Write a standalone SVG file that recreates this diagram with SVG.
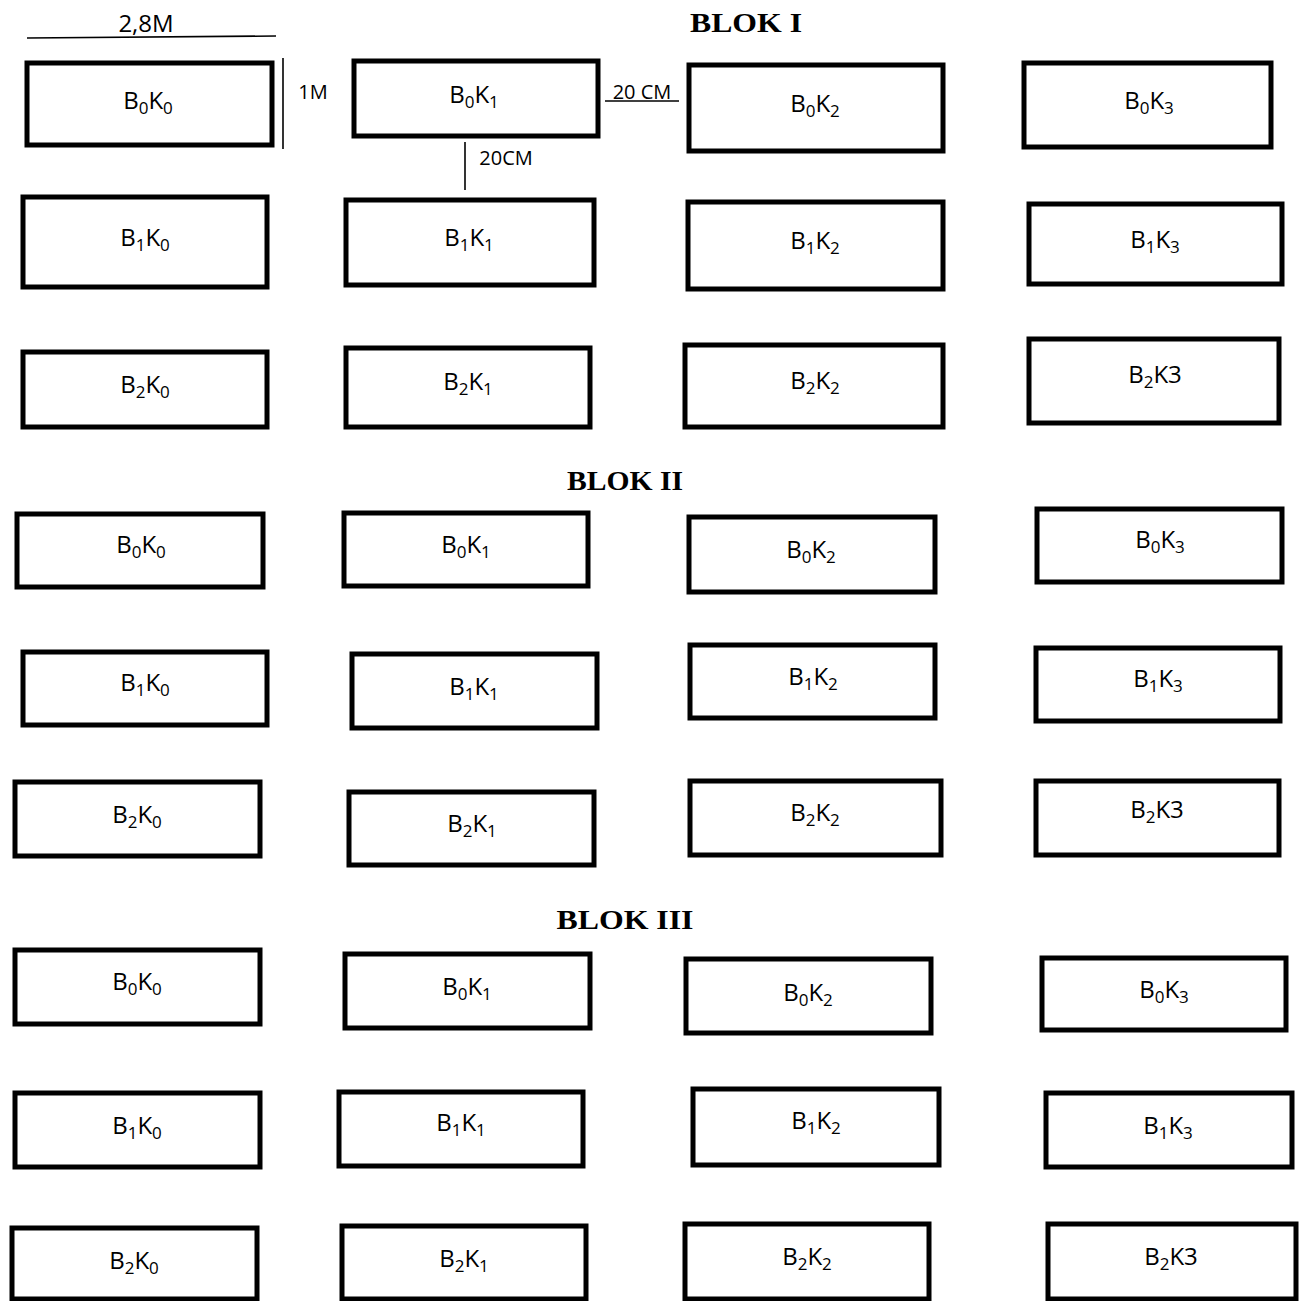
<svg xmlns="http://www.w3.org/2000/svg" width="1302" height="1301" viewBox="0 0 1302 1301">
<style>
.b{fill:#fff;stroke:#000;stroke-width:5}
.t{font-family:"Open Sans","Liberation Sans",sans-serif;font-size:24px;fill:#000;text-anchor:middle}
.s{font-size:17px}
.m{font-size:20px}
.h{font-family:"Liberation Serif",serif;font-weight:bold;font-size:28px;text-anchor:middle}
.d{stroke:#000;stroke-width:1.6;fill:none}
</style>
<rect width="1302" height="1301" fill="#fff"/>
<g id="connectors">
<line class="d" x1="27" y1="38" x2="276" y2="36"/>
<line class="d" x1="283" y1="58" x2="283" y2="149"/>
<line class="d" x1="605" y1="101" x2="679" y2="101"/>
<line class="d" x1="465" y1="142" x2="465" y2="190"/>
</g>
<g id="dims">
<text class="t" x="146" y="32">2,8M</text>
<text class="t m" x="313" y="99">1M</text>
<text class="t m" x="642" y="99">20 CM</text>
<text class="t m" x="506" y="165">20CM</text>
</g>
<g id="titles">
<text class="h" x="746" y="32" textLength="112" lengthAdjust="spacingAndGlyphs">BLOK I</text>
<text class="h" x="625" y="490" textLength="116" lengthAdjust="spacingAndGlyphs">BLOK II</text>
<text class="h" x="625" y="929" textLength="137" lengthAdjust="spacingAndGlyphs">BLOK III</text>
</g>

<g id="b1_b0k0"><rect class="b" x="27" y="63" width="245" height="82"/><text class="t" x="148" y="109">B<tspan class="s" dy="5">0</tspan><tspan dy="-5">K</tspan><tspan class="s" dy="5">0</tspan></text></g>
<g id="b1_b0k1"><rect class="b" x="354" y="61" width="244" height="75"/><text class="t" x="474" y="103">B<tspan class="s" dy="5">0</tspan><tspan dy="-5">K</tspan><tspan class="s" dy="5">1</tspan></text></g>
<g id="b1_b0k2"><rect class="b" x="689" y="65" width="254" height="86"/><text class="t" x="815" y="112">B<tspan class="s" dy="5">0</tspan><tspan dy="-5">K</tspan><tspan class="s" dy="5">2</tspan></text></g>
<g id="b1_b0k3"><rect class="b" x="1024" y="63" width="247" height="84"/><text class="t" x="1149" y="109">B<tspan class="s" dy="5">0</tspan><tspan dy="-5">K</tspan><tspan class="s" dy="5">3</tspan></text></g>

<g id="b1_b1k0"><rect class="b" x="23" y="197" width="244" height="90"/><text class="t" x="145" y="246">B<tspan class="s" dy="5">1</tspan><tspan dy="-5">K</tspan><tspan class="s" dy="5">0</tspan></text></g>
<g id="b1_b1k1"><rect class="b" x="346" y="200" width="248" height="85"/><text class="t" x="469" y="246">B<tspan class="s" dy="5">1</tspan><tspan dy="-5">K</tspan><tspan class="s" dy="5">1</tspan></text></g>
<g id="b1_b1k2"><rect class="b" x="688" y="202" width="255" height="87"/><text class="t" x="815" y="249">B<tspan class="s" dy="5">1</tspan><tspan dy="-5">K</tspan><tspan class="s" dy="5">2</tspan></text></g>
<g id="b1_b1k3"><rect class="b" x="1029" y="204" width="253" height="80"/><text class="t" x="1155" y="248">B<tspan class="s" dy="5">1</tspan><tspan dy="-5">K</tspan><tspan class="s" dy="5">3</tspan></text></g>

<g id="b1_b2k0"><rect class="b" x="23" y="352" width="244" height="75"/><text class="t" x="145" y="393">B<tspan class="s" dy="5">2</tspan><tspan dy="-5">K</tspan><tspan class="s" dy="5">0</tspan></text></g>
<g id="b1_b2k1"><rect class="b" x="346" y="348" width="244" height="79"/><text class="t" x="468" y="390">B<tspan class="s" dy="5">2</tspan><tspan dy="-5">K</tspan><tspan class="s" dy="5">1</tspan></text></g>
<g id="b1_b2k2"><rect class="b" x="685" y="345" width="258" height="82"/><text class="t" x="815" y="389">B<tspan class="s" dy="5">2</tspan><tspan dy="-5">K</tspan><tspan class="s" dy="5">2</tspan></text></g>
<g id="b1_b2k3"><rect class="b" x="1029" y="339" width="250" height="84"/><text class="t" x="1155" y="383">B<tspan class="s" dy="5">2</tspan><tspan dy="-5">K3</tspan></text></g>

<g id="b2_b0k0"><rect class="b" x="17" y="514" width="246" height="73"/><text class="t" x="141" y="553">B<tspan class="s" dy="5">0</tspan><tspan dy="-5">K</tspan><tspan class="s" dy="5">0</tspan></text></g>
<g id="b2_b0k1"><rect class="b" x="344" y="513" width="244" height="73"/><text class="t" x="466" y="553">B<tspan class="s" dy="5">0</tspan><tspan dy="-5">K</tspan><tspan class="s" dy="5">1</tspan></text></g>
<g id="b2_b0k2"><rect class="b" x="689" y="517" width="246" height="75"/><text class="t" x="811" y="558">B<tspan class="s" dy="5">0</tspan><tspan dy="-5">K</tspan><tspan class="s" dy="5">2</tspan></text></g>
<g id="b2_b0k3"><rect class="b" x="1037" y="509" width="245" height="73"/><text class="t" x="1160" y="548">B<tspan class="s" dy="5">0</tspan><tspan dy="-5">K</tspan><tspan class="s" dy="5">3</tspan></text></g>

<g id="b2_b1k0"><rect class="b" x="23" y="652" width="244" height="73"/><text class="t" x="145" y="691">B<tspan class="s" dy="5">1</tspan><tspan dy="-5">K</tspan><tspan class="s" dy="5">0</tspan></text></g>
<g id="b2_b1k1"><rect class="b" x="352" y="654" width="245" height="74"/><text class="t" x="474" y="695">B<tspan class="s" dy="5">1</tspan><tspan dy="-5">K</tspan><tspan class="s" dy="5">1</tspan></text></g>
<g id="b2_b1k2"><rect class="b" x="690" y="645" width="245" height="73"/><text class="t" x="813" y="685">B<tspan class="s" dy="5">1</tspan><tspan dy="-5">K</tspan><tspan class="s" dy="5">2</tspan></text></g>
<g id="b2_b1k3"><rect class="b" x="1036" y="648" width="244" height="73"/><text class="t" x="1158" y="687">B<tspan class="s" dy="5">1</tspan><tspan dy="-5">K</tspan><tspan class="s" dy="5">3</tspan></text></g>

<g id="b2_b2k0"><rect class="b" x="15" y="782" width="245" height="74"/><text class="t" x="137" y="823">B<tspan class="s" dy="5">2</tspan><tspan dy="-5">K</tspan><tspan class="s" dy="5">0</tspan></text></g>
<g id="b2_b2k1"><rect class="b" x="349" y="792" width="245" height="73"/><text class="t" x="472" y="832">B<tspan class="s" dy="5">2</tspan><tspan dy="-5">K</tspan><tspan class="s" dy="5">1</tspan></text></g>
<g id="b2_b2k2"><rect class="b" x="690" y="781" width="251" height="74"/><text class="t" x="815" y="821">B<tspan class="s" dy="5">2</tspan><tspan dy="-5">K</tspan><tspan class="s" dy="5">2</tspan></text></g>
<g id="b2_b2k3"><rect class="b" x="1036" y="781" width="243" height="74"/><text class="t" x="1157" y="818">B<tspan class="s" dy="5">2</tspan><tspan dy="-5">K3</tspan></text></g>

<g id="b3_b0k0"><rect class="b" x="15" y="950" width="245" height="74"/><text class="t" x="137" y="990">B<tspan class="s" dy="5">0</tspan><tspan dy="-5">K</tspan><tspan class="s" dy="5">0</tspan></text></g>
<g id="b3_b0k1"><rect class="b" x="345" y="954" width="245" height="74"/><text class="t" x="467" y="995">B<tspan class="s" dy="5">0</tspan><tspan dy="-5">K</tspan><tspan class="s" dy="5">1</tspan></text></g>
<g id="b3_b0k2"><rect class="b" x="686" y="959" width="245" height="74"/><text class="t" x="808" y="1001">B<tspan class="s" dy="5">0</tspan><tspan dy="-5">K</tspan><tspan class="s" dy="5">2</tspan></text></g>
<g id="b3_b0k3"><rect class="b" x="1042" y="958" width="244" height="72"/><text class="t" x="1164" y="998">B<tspan class="s" dy="5">0</tspan><tspan dy="-5">K</tspan><tspan class="s" dy="5">3</tspan></text></g>

<g id="b3_b1k0"><rect class="b" x="15" y="1093" width="245" height="74"/><text class="t" x="137" y="1134">B<tspan class="s" dy="5">1</tspan><tspan dy="-5">K</tspan><tspan class="s" dy="5">0</tspan></text></g>
<g id="b3_b1k1"><rect class="b" x="339" y="1092" width="244" height="74"/><text class="t" x="461" y="1131">B<tspan class="s" dy="5">1</tspan><tspan dy="-5">K</tspan><tspan class="s" dy="5">1</tspan></text></g>
<g id="b3_b1k2"><rect class="b" x="693" y="1089" width="246" height="76"/><text class="t" x="816" y="1129">B<tspan class="s" dy="5">1</tspan><tspan dy="-5">K</tspan><tspan class="s" dy="5">2</tspan></text></g>
<g id="b3_b1k3"><rect class="b" x="1046" y="1093" width="246" height="74"/><text class="t" x="1168" y="1134">B<tspan class="s" dy="5">1</tspan><tspan dy="-5">K</tspan><tspan class="s" dy="5">3</tspan></text></g>

<g id="b3_b2k0"><rect class="b" x="12" y="1228" width="245" height="71"/><text class="t" x="134" y="1269">B<tspan class="s" dy="5">2</tspan><tspan dy="-5">K</tspan><tspan class="s" dy="5">0</tspan></text></g>
<g id="b3_b2k1"><rect class="b" x="342" y="1226" width="244" height="73"/><text class="t" x="464" y="1267">B<tspan class="s" dy="5">2</tspan><tspan dy="-5">K</tspan><tspan class="s" dy="5">1</tspan></text></g>
<g id="b3_b2k2"><rect class="b" x="685" y="1224" width="244" height="75"/><text class="t" x="807" y="1265">B<tspan class="s" dy="5">2</tspan><tspan dy="-5">K</tspan><tspan class="s" dy="5">2</tspan></text></g>
<g id="b3_b2k3"><rect class="b" x="1048" y="1224" width="248" height="75"/><text class="t" x="1171" y="1265">B<tspan class="s" dy="5">2</tspan><tspan dy="-5">K3</tspan></text></g>
</svg>
